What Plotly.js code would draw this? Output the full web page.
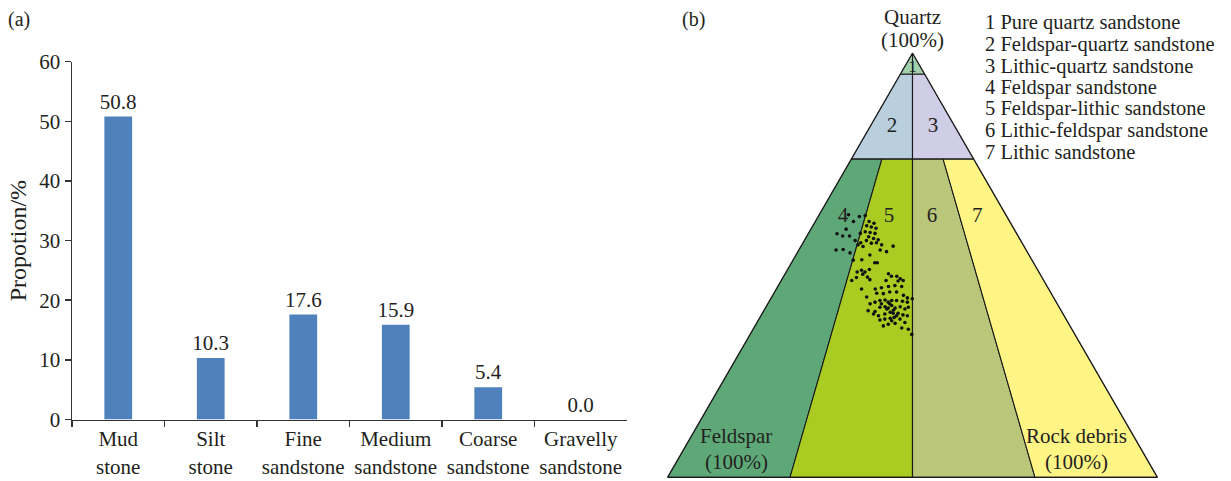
<!DOCTYPE html>
<html><head><meta charset="utf-8">
<script src="https://cdn.plot.ly/plotly-3.0.1.min.js"></script>
<style>html,body{margin:0;padding:0;background:#fff}#chart{width:1231px;height:481px}</style>
</head><body><div id="chart"></div>
<script>
// ---------- panel (a) data ----------
const categories = ['Mud<br>stone','Silt<br>stone','Fine<br>sandstone','Medium<br>sandstone','Coarse<br>sandstone','Gravelly<br>sandstone'];
const proportions = [50.8, 10.3, 17.6, 15.9, 5.4, 0.0];
const yTicks = [0, 10, 20, 30, 40, 50, 60];

// ---------- panel (b) data ----------
const classNumbers = ['1','2','3','4','5','6','7'];
const classNames = ['Pure quartz sandstone','Feldspar-quartz sandstone','Lithic-quartz sandstone',
  'Feldspar sandstone','Feldspar-lithic sandstone','Lithic-feldspar sandstone','Lithic sandstone'];
// classification fields (Quartz / Feldspar / Rock debris, %), closed polygons
const regionQuartz   = [[100,95,95,100],[95,95,75,75,95],[95,95,75,75,95],[75,75,0,0,75],[75,75,0,0,75],[75,75,0,0,75],[75,75,0,0,75]];
const regionFeldspar = [[0,5,0,0],[5,2.5,12.5,25,5],[2.5,0,0,12.5,2.5],[25,18.75,75,100,25],[18.75,12.5,50,75,18.75],[12.5,6.25,25,50,12.5],[6.25,0,0,25,6.25]];
const regionRock     = [[0,0,5,0],[0,2.5,12.5,0,0],[2.5,5,25,12.5,2.5],[0,6.25,25,0,0],[6.25,12.5,50,25,6.25],[12.5,18.75,75,50,12.5],[18.75,25,100,75,18.75]];
const regionColors = ['#a2cfac','#b9cfdd','#d0cde6','#5ea878','#aacb22','#bac67a','#fff585'];
const midlineQuartz = [100, 0], midlineFeldspar = [0, 50], midlineRock = [0, 50];
// positions of the field numbers
const labelQuartz   = [96.6, 82.6, 82.6, 61.4, 61.4, 61.4, 61.4];
const labelFeldspar = [1.7, 12.9, 4.5, 33.5, 24.1, 15.3, 6.1];
const labelRock     = [1.7, 4.5, 12.9, 5.1, 14.5, 23.3, 32.5];
// sample points (Quartz %, Feldspar %); Rock debris = remainder
const sampleQuartz = [61.9,60.3,61.5,61.7,60.3,59.9,59.3,59.0,58.7,58.5,
  57.4,56.9,56.9,57.5,57.9,57.7,57.5,56.7,56.3,56.0,
  55.8,55.3,55.8,55.2,55.3,54.8,53.6,53.7,52.9,54.8,
  54.4,53.6,53.2,54.5,51.2,51.3,52.4,50.6,50.6,48.4,
  48.8,48.4,49.0,47.9,46.4,47.1,47.2,46.6,48.0,47.4,
  47.4,46.8,46.4,46.3,46.4,44.4,44.4,44.7,45.0,45.2,
  45.0,42.5,43.4,43.3,43.7,43.7,42.9,42.3,42.1,40.9,
  41.3,41.7,41.8,41.3,41.7,41.7,41.5,41.3,39.3,39.1,
  40.1,40.2,39.9,40.5,39.9,40.2,39.7,40.1,38.5,38.1,
  38.5,38.9,38.7,38.7,38.3,38.1,37.1,37.3,37.5,37.7,
  37.3,36.5,35.7,36.1,36.3,35.2,34.9,33.7,39.7,40.9,
  39.4,40.9,38.1,36.9];
const sampleFeldspar = [32.1,31.9,30.1,28.8,28.7,27.9,29.7,28.9,28.1,34.3,
  36.7,35.8,34.4,31.9,30.7,29.8,28.9,30.6,29.8,29.0,
  33.8,32.9,31.5,30.8,29.7,28.9,38.8,37.3,36.3,33.7,
  32.9,29.8,28.7,26.7,36.5,34.7,32.5,32.4,31.9,37.1,
  36.0,35.5,34.3,36.2,39.2,37.9,35.6,35.4,30.9,30.6,
  29.5,29.1,28.7,29.8,32.2,38.2,35.4,34.0,32.4,31.0,
  29.7,38.1,35.6,34.3,32.8,31.4,30.4,29.9,29.0,38.2,
  37.0,35.8,34.7,34.3,33.4,32.4,31.3,30.4,39.4,38.1,
  36.6,35.5,35.0,34.0,33.6,32.4,31.7,30.8,38.7,37.9,
  36.4,35.1,34.6,33.6,32.8,32.0,38.1,37.0,35.8,34.9,
  33.9,33.3,38.1,36.9,35.4,34.6,33.4,33.3,35.4,34.2,
  34.2,35.9,34.2,35.8];

// ---------- drawing ----------
const W = 1231, H = 481;
const FONT = 'Liberation Serif, Times New Roman, serif';
const INK = '#231f20';
const px = x => x / W, py = y => 1 - y / H;

const traces = [];
traces.push({
  type: 'bar', x: categories, y: proportions,
  marker: {color: '#4f81bd'},
  text: proportions.map(v => v.toFixed(1)), textposition: 'outside',
  constraintext: 'none',
  textfont: {family: FONT, size: 21, color: INK}, cliponaxis: false,
  hoverinfo: 'skip'
});

for (let i = 0; i < regionQuartz.length; i++) {
  traces.push({
    type: 'scatterternary', mode: 'lines', fill: 'toself',
    a: regionQuartz[i], b: regionFeldspar[i], c: regionRock[i],
    fillcolor: regionColors[i], line: {color: '#1a1a1a', width: 1.1},
    hoverinfo: 'skip'
  });
}
traces.push({
  type: 'scatterternary', mode: 'lines',
  a: midlineQuartz, b: midlineFeldspar, c: midlineRock,
  line: {color: '#1a1a1a', width: 1.1}, hoverinfo: 'skip'
});
traces.push({
  type: 'scatterternary', mode: 'markers',
  a: sampleQuartz, b: sampleFeldspar,
  marker: {color: '#111', size: 3.6}, hoverinfo: 'skip'
});
traces.push({
  type: 'scatterternary', mode: 'text',
  a: labelQuartz, b: labelFeldspar, c: labelRock,
  text: classNumbers, textposition: 'middle center',
  textfont: {family: FONT, size: [17, 21, 21, 21, 21, 21, 21], color: INK}, hoverinfo: 'skip', cliponaxis: false
});

const ternAxis = {showline: true, linecolor: '#1a1a1a', linewidth: 1.2, showgrid: false,
  showticklabels: false, ticks: '', title: {text: ''}};

const annotations = [];
const ann = (text, x, y, xanchor, size) => annotations.push({
  text, xref: 'paper', yref: 'paper', x: px(x), y: py(y), xanchor: xanchor || 'center', yanchor: 'middle',
  showarrow: false, font: {family: FONT, size: size || 21, color: INK}
});
ann('(a)', 6, 19, 'left', 20);
ann('(b)', 680, 19, 'left', 20);
ann('Quartz', 912, 17);
ann('(100%)', 912, 40);
ann('Feldspar', 736, 436);
ann('(100%)', 736, 462);
ann('Rock debris', 1076, 436);
ann('(100%)', 1076, 462);
const legendY = [22.7, 44.3, 66.7, 87.7, 109, 130.7, 152.3];
classNumbers.forEach((n, i) => ann(n + ' ' + classNames[i], 983, legendY[i], 'left', 20.5));

const layout = {
  width: W, height: H,
  margin: {l: 0, r: 0, t: 0, b: 0},
  paper_bgcolor: '#fff', plot_bgcolor: 'rgba(0,0,0,0)',
  font: {family: FONT, color: INK, size: 21},
  showlegend: false,
  bargap: 0.7,
  xaxis: {
    domain: [px(72), px(627)], type: 'category', range: [-0.5, 5.5],
    showline: true, linecolor: '#333', linewidth: 1.5,
    ticks: 'outside', tickson: 'boundaries', ticklen: 6, tickwidth: 1.5, tickcolor: '#333',
    tickfont: {family: FONT, size: 21, color: INK},
    showgrid: false, zeroline: false, fixedrange: true
  },
  yaxis: {
    domain: [py(419.5), py(61.7)], range: [0, 60], tickvals: yTicks,
    showline: true, linecolor: '#333', linewidth: 1.5,
    ticks: 'outside', ticklen: 6, tickwidth: 1.5, tickcolor: '#333',
    tickfont: {family: FONT, size: 21, color: INK},
    showgrid: false, zeroline: false, fixedrange: true,
    title: {text: 'Propotion/%', font: {family: FONT, size: 24, color: INK}, standoff: 6}
  },
  ternary: {
    domain: {x: [px(667.5), px(1157.5)], y: [0.0056, 0.8916]},
    sum: 100, bgcolor: 'rgba(0,0,0,0)',
    aaxis: ternAxis, baxis: ternAxis, caxis: ternAxis
  },
  annotations
};

Plotly.newPlot('chart', traces, layout, {staticPlot: true, displayModeBar: false});
</script>
</body></html>
